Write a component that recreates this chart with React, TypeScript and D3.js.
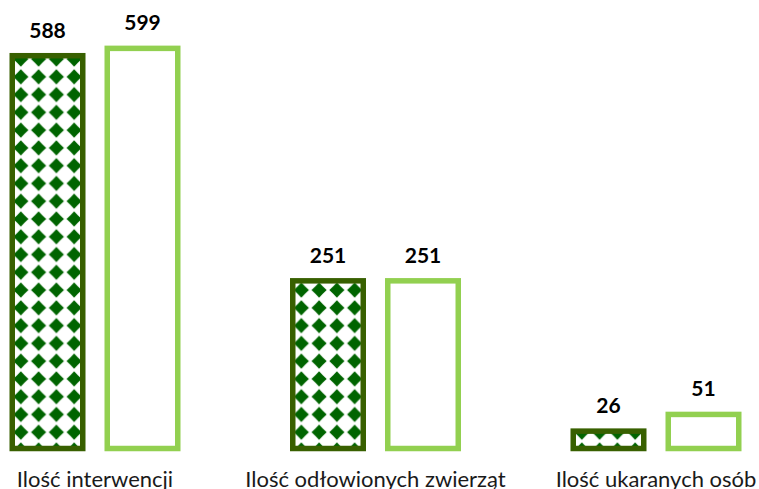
import React, { useEffect, useRef } from "react";
import * as d3 from "d3";

const categories = ["Ilość interwencji", "Ilość odłowionych zwierząt", "Ilość ukaranych osób"];
const seriesNames = ["A", "B"];
const seriesA = [588, 251, 26];
const seriesB = [599, 251, 51];

const W = 759;
const H = 489;

export default function App() {
  const ref = useRef<SVGSVGElement | null>(null);

  useEffect(() => {
    const svg = d3.select(ref.current);
    svg.selectAll("*").remove();

    const y = d3.scaleLinear().domain([0, 650]).range([448.5, 448.5 - 0.668 * 650]);
    const x = d3.scalePoint<string>().domain(categories).range([95, 656]);
    const sub = d3.scalePoint<string>().domain(seriesNames).range([-47.5, 47.5]);
    const barW = 70.5;
    const cell = 17.77;

    const rows = categories.map((c, i) => ({ c, a: seriesA[i], b: seriesB[i] }));
    const defs = svg.append("defs");

    rows.forEach((r, i) => {
      const cx = (x(r.c) as number) + (sub("A") as number);
      const p = defs
        .append("pattern")
        .attr("id", "pat" + i)
        .attr("patternUnits", "userSpaceOnUse")
        .attr("width", cell)
        .attr("height", cell)
        .attr("x", cx)
        .attr("y", 450 - cell / 2);
      const h = cell / 2;
      const R = 7.6;
      const k = 3.7;
      p.append("rect").attr("width", cell).attr("height", cell).attr("fill", "#ffffff");
      p.append("path")
        .attr(
          "d",
          `M${h},${h - R} L${h + k},${h - k} L${h + R},${h} L${h + k},${h + k} L${h},${h + R} L${h - k},${h + k} L${h - R},${h} L${h - k},${h - k} Z`
        )
        .attr("fill", "#006400");
    });

    const g = svg.append("g");

    rows.forEach((r, i) => {
      const gx = x(r.c) as number;
      const vals: [string, number][] = [["A", r.a], ["B", r.b]];
      vals.forEach(([s, v]) => {
        const cx = gx + (sub(s) as number);
        g.append("rect")
          .attr("x", cx - barW / 2)
          .attr("y", y(v))
          .attr("width", barW)
          .attr("height", y(0) - y(v))
          .attr("fill", s === "A" ? `url(#pat${i})` : "#ffffff")
          .attr("stroke", s === "A" ? "#386000" : "#92D050")
          .attr("stroke-width", 5.5);
        g.append("text")
          .attr("x", cx)
          .attr("y", y(v) - 18)
          .attr("text-anchor", "middle")
          .attr("font-family", "Lato")
          .attr("font-weight", "bold")
          .attr("font-size", 21)
          .attr("fill", "#000000")
          .text(String(v));
      });
    });

    const labels = g
      .selectAll("text.cat")
      .data(categories)
      .join("text")
      .attr("class", "cat")
      .attr("y", 487)
      .attr("text-anchor", "middle")
      .attr("font-family", "Lato")
      .attr("font-size", 22)
      .attr("fill", "#1a1a1a")
      .text((d) => d);

    labels.each(function (d) {
      const el = this as SVGTextElement;
      const w = el.getComputedTextLength();
      let cx = x(d) as number;
      if (cx - w / 2 < 16) cx = 16 + w / 2;
      if (cx + w / 2 > W) cx = W - w / 2;
      d3.select(el).attr("x", cx);
    });
  }, []);

  return (
    <svg
      ref={ref}
      width={W}
      height={H}
      style={{ position: "absolute", left: 0, top: 0, background: "#ffffff" }}
    />
  );
}
